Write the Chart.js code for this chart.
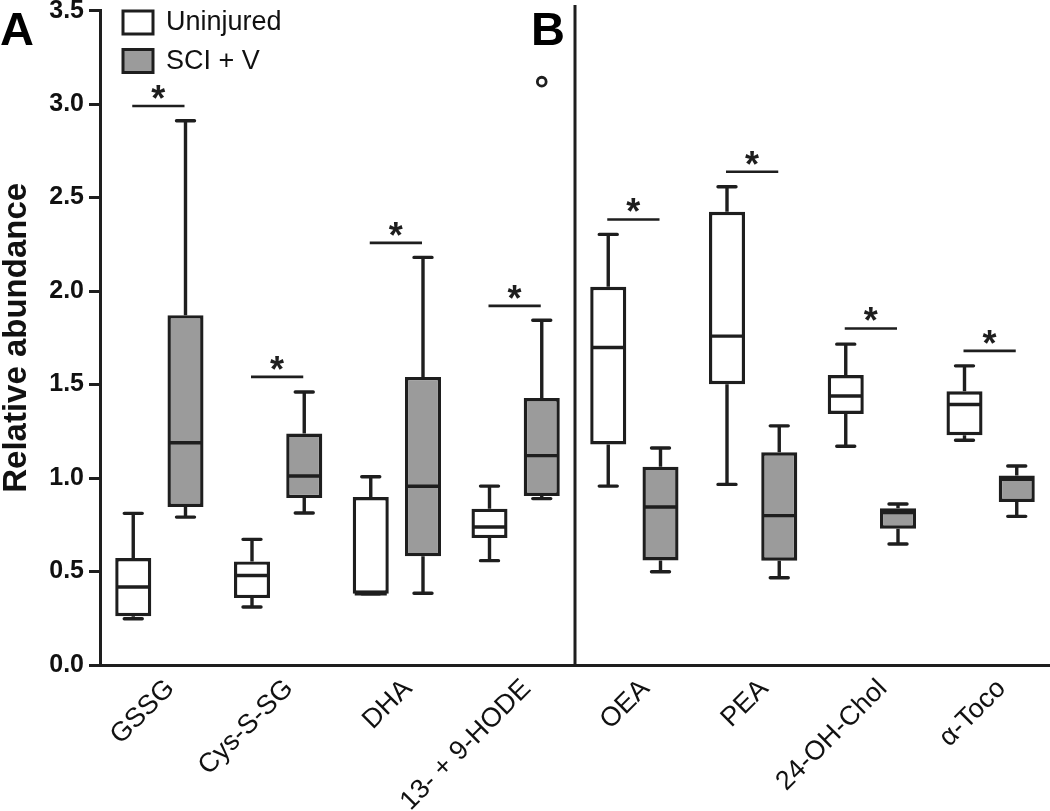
<!DOCTYPE html>
<html>
<head>
<meta charset="utf-8">
<script src="https://cdn.jsdelivr.net/npm/chart.js@4.4.1/dist/chart.umd.min.js"></script>
<style>
  html, body { margin: 0; padding: 0; background: #fff; }
  #wrap { width: 1050px; height: 811px; position: relative; }
</style>
</head>
<body>
<div id="wrap"><canvas id="chart"></canvas></div>
<script>
/* ===== Data ===== */
const categories = ['GSSG', 'Cys-S-SG', 'DHA', '13- + 9-HODE', 'OEA', 'PEA', '24-OH-Chol', 'α-Toco'];

// Uninjured
const uninjMin    = [0.247, 0.310, 0.381, 0.558, 0.957, 0.966, 1.170, 1.202];
const uninjQ1     = [0.261, 0.358, 0.381, 0.679, 1.180, 1.502, 1.343, 1.229];
const uninjMedian = [0.417, 0.479, 0.381, 0.738, 1.698, 1.759, 1.439, 1.393];
const uninjQ3     = [0.572, 0.554, 0.898, 0.836, 2.023, 2.424, 1.551, 1.464];
const uninjMax    = [0.811, 0.672, 1.007, 0.957, 2.303, 2.558, 1.716, 1.600];

// SCI + V
const sciMin    = [0.791, 0.813, 0.384, 0.890, 0.499, 0.467, 0.647, 0.795];
const sciQ1     = [0.845, 0.893, 0.581, 0.904, 0.559, 0.558, 0.729, 0.872];
const sciMedian = [1.189, 1.011, 0.956, 1.120, 0.845, 0.799, 0.815, 0.993];
const sciQ3     = [1.871, 1.238, 1.541, 1.428, 1.061, 1.138, 0.838, 1.013];
const sciMax    = [2.911, 1.460, 2.180, 1.844, 1.161, 1.279, 0.861, 1.064];

// outliers of SCI + V (null = none)
const sciOutlier = [null, null, null, 3.12, null, null, null, null];

// height of the significance bars
const sigLevel = [2.99, 1.541, 2.258, 1.921, 2.383, 2.638, 1.800, 1.680];

const yTicksMin = 0, yTicksMax = 3.5, yStep = 0.5;

const INK  = '#1e1e1e';
const GREY = '#9b9b9b';
const FONT = "'Liberation Sans', Arial, sans-serif";

const stats = [
  { min: uninjMin, med: uninjMedian, max: uninjMax, out: [] },
  { min: sciMin,   med: sciMedian,   max: sciMax,   out: sciOutlier }
];

/* ===== Box plot extras: whiskers, medians, significance, legend ===== */
const boxExtras = {
  id: 'boxExtras',
  afterDatasetsDraw(chart) {
    const { ctx, scales: { x, y } } = chart;
    ctx.save();
    ctx.strokeStyle = INK;
    ctx.lineWidth = 3.4;

    chart.data.datasets.forEach((ds, di) => {
      const st = stats[di];
      chart.getDatasetMeta(di).data.forEach((bar, i) => {
        const cx = bar.x, hw = bar.width / 2;
        const yTop = y.getPixelForValue(ds.data[i][1]);
        const yBot = y.getPixelForValue(ds.data[i][0]);
        const yMax = y.getPixelForValue(st.max[i]);
        const yMin = y.getPixelForValue(st.min[i]);
        const yMed = y.getPixelForValue(st.med[i]);

        ctx.lineCap = 'butt';
        ctx.beginPath();
        ctx.moveTo(cx, yTop); ctx.lineTo(cx, yMax);
        ctx.moveTo(cx, yBot); ctx.lineTo(cx, yMin);
        ctx.moveTo(cx - hw + 2, yMed); ctx.lineTo(cx + hw - 2, yMed);
        ctx.stroke();

        ctx.lineCap = 'round';
        ctx.beginPath();
        ctx.moveTo(cx - 9, yMax); ctx.lineTo(cx + 9, yMax);
        ctx.moveTo(cx - 9, yMin); ctx.lineTo(cx + 9, yMin);
        ctx.stroke();

        const o = st.out[i];
        if (o != null) {
          ctx.lineWidth = 2.8;
          ctx.beginPath();
          ctx.arc(cx, y.getPixelForValue(o), 4.4, 0, Math.PI * 2);
          ctx.stroke();
          ctx.lineWidth = 3.4;
        }
      });
    });

    // significance bars + stars
    const m0 = chart.getDatasetMeta(0).data;
    const m1 = chart.getDatasetMeta(1).data;
    ctx.lineWidth = 2.6;
    ctx.lineCap = 'butt';
    ctx.fillStyle = INK;
    ctx.font = `bold 36px ${FONT}`;
    ctx.textAlign = 'center';
    ctx.textBaseline = 'alphabetic';
    sigLevel.forEach((lv, i) => {
      const py = y.getPixelForValue(lv);
      const x0 = m0[i].x - 1, x1 = m1[i].x - 1;
      ctx.beginPath();
      ctx.moveTo(x0, py); ctx.lineTo(x1, py);
      ctx.stroke();
      ctx.fillText('*', (x0 + x1) / 2, py + 5);
    });
    ctx.restore();
  },
  afterDraw(chart) {
    const { ctx, scales: { x, y } } = chart;
    ctx.save();

    // panel divider
    const xs = (x.getPixelForValue(3) + x.getPixelForValue(4)) / 2;
    ctx.strokeStyle = INK;
    ctx.lineWidth = 3;
    ctx.beginPath();
    ctx.moveTo(xs, 5); ctx.lineTo(xs, y.bottom);
    ctx.stroke();

    // panel letters
    ctx.fillStyle = '#000';
    ctx.font = `bold 47px ${FONT}`;
    ctx.textBaseline = 'alphabetic';
    ctx.textAlign = 'left';
    ctx.fillText('A', 0, 45);
    ctx.fillText('B', xs - 44, 45);

    // legend
    ctx.font = `27px ${FONT}`;
    ctx.textBaseline = 'middle';
    chart.data.datasets.forEach((ds, di) => {
      const top = 11 + di * 38.5;
      ctx.fillStyle = ds.backgroundColor;
      ctx.fillRect(123, top, 30, 23);
      ctx.strokeStyle = INK;
      ctx.lineWidth = 3;
      ctx.strokeRect(123, top, 30, 23);
      ctx.fillStyle = '#111';
      ctx.fillText(ds.label, 166, top + 12);
    });
    ctx.restore();
  }
};

/* ===== Chart ===== */
const ctx = document.getElementById('chart').getContext('2d');

new Chart(ctx, {
  type: 'bar',
  data: {
    labels: categories,
    datasets: [
      {
        label: 'Uninjured',
        data: uninjQ1.map((v, i) => [v, uninjQ3[i]]),
        backgroundColor: '#ffffff',
        borderColor: INK,
        borderWidth: 3.4,
        borderSkipped: false
      },
      {
        label: 'SCI + V',
        data: sciQ1.map((v, i) => [v, sciQ3[i]]),
        backgroundColor: GREY,
        borderColor: INK,
        borderWidth: 3.4,
        borderSkipped: false
      }
    ]
  },
  options: {
    responsive: true,
    maintainAspectRatio: false,
    animation: false,
    devicePixelRatio: 1,
    categoryPercentage: 0.88,
    barPercentage: 0.69,
    layout: { padding: { top: 0, right: 0, left: 0, bottom: 0 } },
    plugins: {
      legend: { display: false },
      tooltip: { enabled: false }
    },
    scales: {
      x: {
        offset: true,
        grid: { display: false },
        border: { display: true, width: 3, color: INK },
        ticks: {
          color: '#111',
          autoSkip: false,
          minRotation: 45,
          maxRotation: 45,
          padding: 0,
          labelOffset: 11,
          font: { family: FONT, size: 27 }
        },
        afterFit: s => { s.height = 146; }
      },
      y: {
        min: yTicksMin,
        max: yTicksMax,
        grid: { drawOnChartArea: false, drawTicks: true, tickLength: 11, tickWidth: 3, color: INK },
        border: { display: true, width: 3, color: INK },
        ticks: {
          stepSize: yStep,
          color: '#111',
          padding: 5,
          font: { family: FONT, size: 25, weight: 'bold', lineHeight: 0.45 },
          callback: v => v.toFixed(1)
        },
        title: {
          display: true,
          text: 'Relative abundance',
          color: '#111',
          padding: 0,
          font: { family: FONT, size: 33, weight: 'bold', lineHeight: 1 }
        },
        afterFit: s => { s.width = 100; }
      }
    }
  },
  plugins: [boxExtras]
});
</script>
</body>
</html>
